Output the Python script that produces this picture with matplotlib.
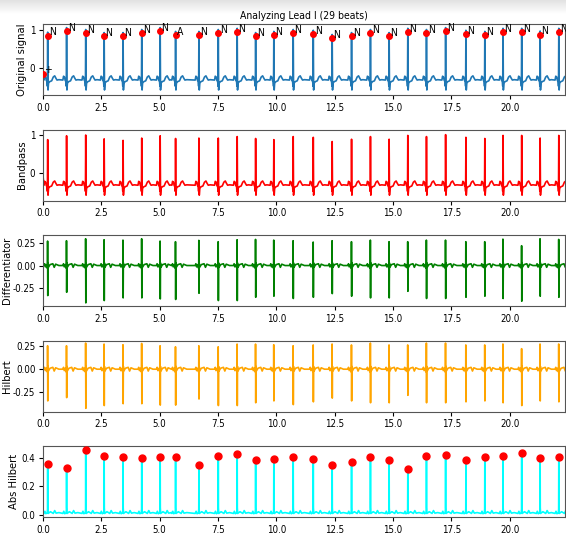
import numpy as np
import matplotlib

matplotlib.use("Agg")
import matplotlib.pyplot as plt
from matplotlib import font_manager
from matplotlib.colors import LinearSegmentedColormap

# --- beat annotations ----------------------------------------------------
beat_times = [0.20, 1.01, 1.83, 2.62, 3.43, 4.23, 5.02, 5.68, 6.68, 7.51,
              8.32, 9.11, 9.89, 10.72, 11.58, 12.39, 13.22, 14.03, 14.83,
              15.63, 16.43, 17.25, 18.12, 18.93, 19.71, 20.51, 21.30, 22.10]
beat_labels = ["N"] * 7 + ["A"] + ["N"] * 20
start_time, start_label, start_value = 0.0, "+", -0.15

# value of the signal at each annotation (red dots, top panel)
ann_values = [0.83, 0.955, 0.90, 0.825, 0.825, 0.90, 0.955, 0.85, 0.85, 0.90,
              0.93, 0.825, 0.85, 0.90, 0.877, 0.77, 0.825, 0.90, 0.825, 0.93,
              0.90, 0.955, 0.877, 0.85, 0.93, 0.93, 0.86, 0.93]
orig_peaks = [0.93, 1.05, 1.00, 0.92, 0.92, 1.00, 1.05, 0.95, 0.95, 1.00,
              1.03, 0.92, 0.95, 1.00, 0.98, 0.87, 0.92, 1.00, 0.92, 1.03,
              1.00, 1.05, 0.98, 0.95, 1.03, 1.03, 0.96, 1.03]
bandpass_peaks = [0.87, 0.97, 0.99, 0.89, 0.85, 0.91, 0.97, 0.90, 0.91, 0.91,
                  0.95, 0.90, 0.87, 0.95, 0.93, 0.82, 0.88, 0.95, 0.88, 0.98,
                  0.95, 1.00, 0.93, 0.90, 0.98, 0.98, 0.91, 0.98]
diff_up = [0.274, 0.278, 0.30, 0.289, 0.285, 0.30, 0.274, 0.267, 0.282, 0.267,
           0.289, 0.293, 0.285, 0.278, 0.263, 0.278, 0.267, 0.285, 0.267, 0.267,
           0.285, 0.285, 0.267, 0.267, 0.296, 0.222, 0.30, 0.293]
diff_down = [-0.337, -0.30, -0.419, -0.393, -0.363, -0.363, -0.374, -0.381,
             -0.311, -0.393, -0.393, -0.356, -0.344, -0.370, -0.356, -0.315,
             -0.344, -0.363, -0.363, -0.289, -0.370, -0.370, -0.356, -0.344,
             -0.370, -0.40, -0.344, -0.356]
hilb_up = [0.251, 0.251, 0.28, 0.269, 0.262, 0.276, 0.251, 0.24, 0.251, 0.24,
           0.269, 0.269, 0.262, 0.251, 0.26, 0.27, 0.26, 0.28, 0.26, 0.26,
           0.28, 0.28, 0.26, 0.26, 0.27, 0.22, 0.27, 0.27]
hilb_down = [-0.34, -0.305, -0.42, -0.39, -0.37, -0.37, -0.385, -0.385, -0.32,
             -0.39, -0.39, -0.36, -0.34, -0.38, -0.35, -0.31, -0.34, -0.36,
             -0.36, -0.28, -0.36, -0.36, -0.35, -0.34, -0.36, -0.39, -0.34,
             -0.35]
abs_peaks = [0.36, 0.33, 0.454, 0.414, 0.407, 0.397, 0.407, 0.407, 0.353,
             0.416, 0.428, 0.383, 0.39, 0.407, 0.39, 0.353, 0.374, 0.407,
             0.383, 0.322, 0.414, 0.421, 0.383, 0.407, 0.414, 0.435, 0.40,
             0.407]

# beat shapes around each R peak: (offset [s], value)
ecg_lead = [(0.0, -0.15), (0.03, -0.30)]
bp_lead = [(0.0, -0.08), (0.03, -0.28)]
ecg_pre = [(-0.16, -0.32), (-0.13, -0.22), (-0.09, -0.24), (-0.06, -0.33),
           (-0.025, -0.36), (-0.012, -0.48)]
ecg_post = [(0.015, -0.58), (0.035, -0.40), (0.09, -0.36), (0.17, -0.34),
            (0.24, -0.24), (0.30, -0.21), (0.35, -0.27), (0.40, -0.32),
            (0.48, -0.31)]
diff_lead = [(0.0, 0.01), (0.03, 0.0)]
diff_pre = [(-0.16, 0.0), (-0.13, 0.02), (-0.10, -0.015), (-0.05, 0.01),
            (-0.015, -0.03), (-0.008, 0.0)]
diff_post = [(0.012, 0.03), (0.03, -0.02), (0.10, 0.01), (0.22, 0.02),
             (0.28, -0.02), (0.34, 0.015), (0.48, 0.0)]
abs_lead = [(0.0, 0.03), (0.03, 0.01)]
abs_pre = [(-0.16, 0.01), (-0.12, 0.025), (-0.08, 0.008), (-0.02, 0.015),
           (-0.006, 0.04)]
abs_post = [(0.006, 0.05), (0.02, 0.01), (0.12, 0.022), (0.24, 0.01),
            (0.30, 0.03), (0.36, 0.012), (0.48, 0.016)]

T_END = 22.36


def build_trace(lead, pre, spikes, post):
    xs = [t for t, _ in lead]
    ys = [v for _, v in lead]
    for t0, sp in zip(beat_times, spikes):
        for dt, v in pre + sp + post:
            xs.append(t0 + dt)
            ys.append(v)
    return np.array(xs), np.array(ys)


def pick_narrow_font():
    names = {f.name for f in font_manager.fontManager.ttflist}
    for n in ["Liberation Sans Narrow", "DejaVu Sans Condensed"]:
        if n in names:
            return n
    return "DejaVu Sans"


def style_axis(ax, ylabel, yticks, ylim, label_x):
    ax.set_xlim(0, T_END)
    ax.set_ylim(*ylim)
    ax.set_yticks(yticks)
    ax.set_ylabel(ylabel, fontsize=8, family="DejaVu Sans")
    ax.yaxis.set_label_coords(label_x, 0.5)
    ax.tick_params(labelsize=7, length=3, width=0.8, pad=2.5)
    for s in ax.spines.values():
        s.set_color("#555555")


def main():
    narrow = pick_narrow_font()
    plt.rcParams["font.family"] = [narrow, "DejaVu Sans"]
    plt.rcParams["axes.unicode_minus"] = False
    if narrow == "DejaVu Sans":
        plt.rcParams["font.stretch"] = "condensed"

    x_o, y_o = build_trace(ecg_lead, ecg_pre, [[(0.0, p)] for p in orig_peaks], ecg_post)
    x_b, y_b = build_trace(bp_lead, ecg_pre, [[(0.0, p)] for p in bandpass_peaks], ecg_post)
    x_d, y_d = build_trace(diff_lead, diff_pre,
                           [[(-0.004, u), (0.004, d)] for u, d in zip(diff_up, diff_down)],
                           diff_post)
    x_h, y_h = build_trace(diff_lead, diff_pre,
                           [[(-0.004, u), (0.004, d)] for u, d in zip(hilb_up, hilb_down)],
                           diff_post)
    x_a, y_a = build_trace(abs_lead, abs_pre, [[(0.0, p)] for p in abs_peaks], abs_post)

    fig, axes = plt.subplots(5, 1, figsize=(5.66, 5.37), dpi=100)
    fig.subplots_adjust(left=0.076, right=0.998, top=0.955, bottom=0.037, hspace=0.49)

    # light shadow at the top of the screenshot
    bg = fig.add_axes([0, 1 - 14 / 537, 1, 14 / 537], zorder=-5)
    bg.imshow(np.linspace(0, 1, 50).reshape(-1, 1), aspect="auto",
              cmap=LinearSegmentedColormap.from_list("sh", ["#e2e2e2", "#ffffff"]))
    bg.axis("off")

    lw = 1.2
    ax = axes[0]
    ax.plot(x_o, y_o, color="#1f77b4", lw=lw)
    ax.plot([start_time] + beat_times, [start_value] + ann_values, "o",
            color="red", ms=4, zorder=3)
    for t, v, lab in zip([start_time] + beat_times, [start_value] + ann_values,
                         [start_label] + beat_labels):
        ax.annotate(lab, (t, v), xytext=(1.0, 0.5), textcoords="offset points",
                    fontsize=7.5, color="black", annotation_clip=False)
    ax.set_title("Analyzing Lead I (29 beats)", fontsize=7.5, pad=4)
    style_axis(ax, "Original signal", [0, 1], (-0.71, 1.14), -0.031)

    ax = axes[1]
    ax.plot(x_b, y_b, color="red", lw=lw)
    style_axis(ax, "Bandpass", [0, 1], (-0.72, 1.13), -0.031)

    ax = axes[2]
    ax.plot(x_d, y_d, color="green", lw=lw)
    style_axis(ax, "Differentiator", [-0.25, 0.0, 0.25], (-0.455, 0.34), -0.06)

    ax = axes[3]
    ax.plot(x_h, y_h, color="orange", lw=lw)
    style_axis(ax, "Hilbert", [-0.25, 0.0, 0.25], (-0.455, 0.305), -0.06)

    ax = axes[4]
    ax.plot(x_a, y_a, color="cyan", lw=lw)
    ax.plot(beat_times, abs_peaks, "o", color="red", ms=5, zorder=3)
    style_axis(ax, "Abs Hilbert", [0.0, 0.2, 0.4], (-0.016, 0.482), -0.046)

    fig.savefig("out.png", dpi=100)
    plt.close(fig)


if __name__ == "__main__":
    main()
